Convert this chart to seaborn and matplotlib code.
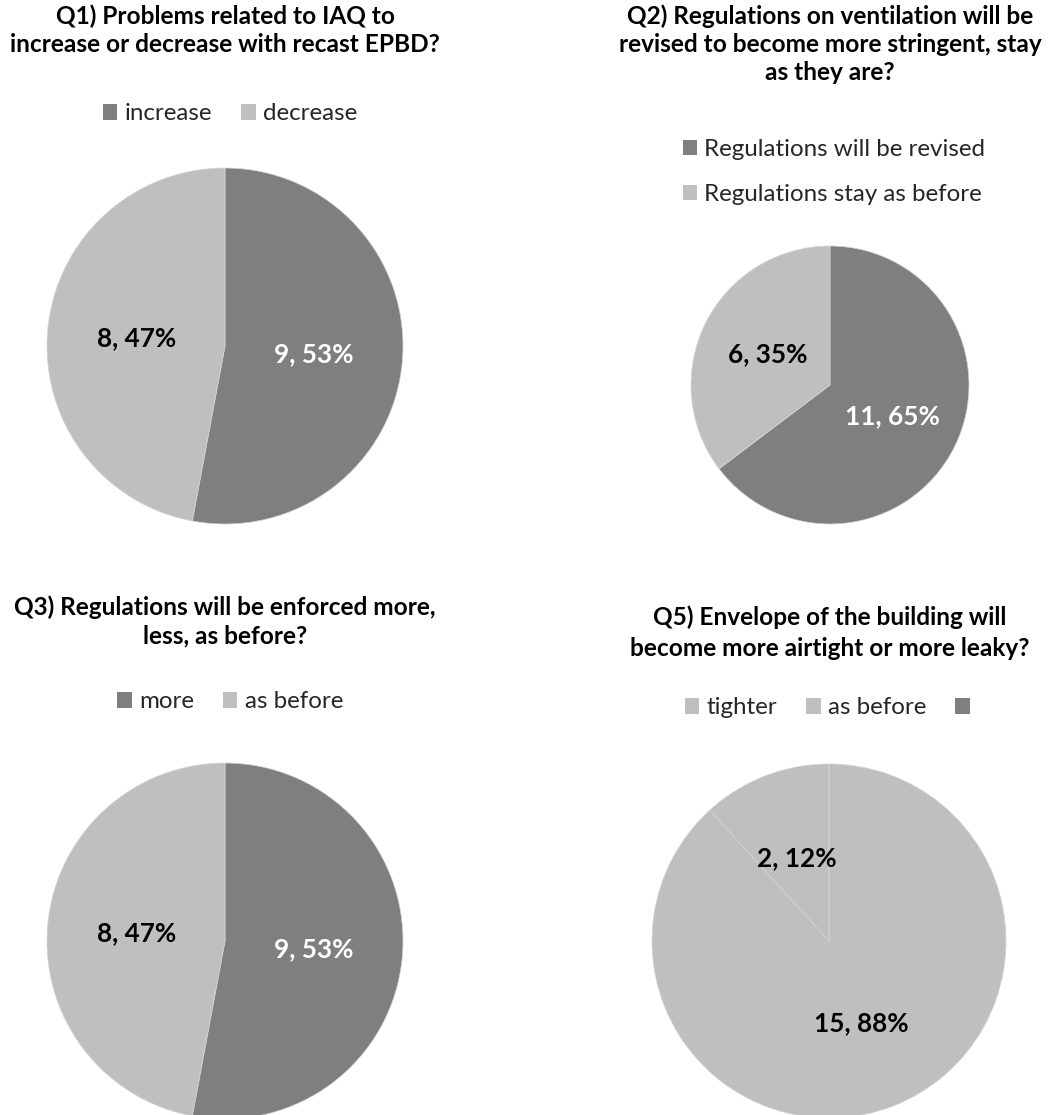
import matplotlib
matplotlib.use('Agg')
import matplotlib.pyplot as plt
from matplotlib.patches import Patch
import numpy as np
import seaborn as sns

# ── data ──────────────────────────────────────────────────────────────────────
q1_title = ['Q1) Problems related to IAQ to', 'increase or decrease with recast EPBD?']
q1_labels = ['increase', 'decrease']
q1_values = [9, 8]

q2_title = ['Q2) Regulations on ventilation will be',
            'revised to become more stringent, stay', 'as they are?']
q2_labels = ['Regulations will be revised', 'Regulations stay as before']
q2_values = [11, 6]

q3_title = ['Q3) Regulations will be enforced more,', 'less, as before?']
q3_labels = ['more', 'as before']
q3_values = [9, 8]

q5_title = ['Q5) Envelope of the building will', 'become more airtight or more leaky?']
q5_labels = ['tighter', 'as before', '']
q5_values = [15, 2, 0]

# ── style ─────────────────────────────────────────────────────────────────────
sns.set_theme(style='white')
plt.rcParams['font.family'] = ['Lato', 'DejaVu Sans']

DARK = '#7F7F7F'
LIGHT = '#BFBFBF'
W, H = 1051, 1115
TITLE_FS = 17.6
LEG_FS = 17.4
LBL_FS = 18.8

fig = plt.figure(figsize=(W / 100, H / 100), dpi=100, facecolor='white')


def add_title(lines, cx, y0, step):
    for i, line in enumerate(lines):
        fig.text(cx / W, 1 - (y0 + i * step) / H, line, ha='center', va='center',
                 fontsize=TITLE_FS, fontweight='bold', color='black')


def draw_pie(cx, cy, r, values, colors, text_colors):
    ax = fig.add_axes([(cx - r) / W, 1 - (cy + r) / H, 2 * r / W, 2 * r / H])
    wedges, _ = ax.pie(values, colors=colors, startangle=90, counterclock=False,
                       radius=1, wedgeprops=dict(linewidth=0.5, edgecolor='#d4d4d4'))
    total = sum(values)
    for w, v, tc in zip(wedges, values, text_colors):
        if v == 0:
            continue
        ang = np.deg2rad((w.theta1 + w.theta2) / 2)
        ax.text(0.5 * np.cos(ang), 0.5 * np.sin(ang), f'{v}, {v / total * 100:.0f}%',
                ha='center', va='center', fontsize=LBL_FS, fontweight='bold', color=tc)
    ax.set_xlim(-1, 1); ax.set_ylim(-1, 1)
    ax.set_aspect('equal')
    ax.axis('off')
    return ax


def add_legend(labels, colors, cx, cy, ncol, labelspacing=0.5):
    handles = [Patch(facecolor=c, edgecolor='none') for c in colors]
    fig.legend(handles, labels, loc='center', bbox_to_anchor=(cx / W, 1 - cy / H),
               ncol=ncol, frameon=False, fontsize=LEG_FS, handlelength=0.6,
               handleheight=0.6, handletextpad=0.3, columnspacing=1.2,
               labelspacing=labelspacing, borderpad=0)


# Q1
add_title(q1_title, 225, 16, 28.5)
add_legend(q1_labels, [DARK, LIGHT], 230, 114, ncol=2)
draw_pie(225, 346, 178, q1_values, [DARK, LIGHT], ['white', 'black'])

# Q2
add_title(q2_title, 830, 16, 28.5)
add_legend(q2_labels, [DARK, LIGHT], 834, 172, ncol=1, labelspacing=1.0)
draw_pie(830, 385, 139, q2_values, [DARK, LIGHT], ['white', 'black'])

# Q3
add_title(q3_title, 225, 607, 28.5)
add_legend(q3_labels, [DARK, LIGHT], 230, 702, ncol=2)
draw_pie(225, 941, 178, q3_values, [DARK, LIGHT], ['white', 'black'])

# Q5
add_title(q5_title, 830, 617, 31)
add_legend(q5_labels, [LIGHT, LIGHT, DARK], 831, 708, ncol=3)
draw_pie(829, 941, 177, q5_values, [LIGHT, LIGHT, DARK], ['black', 'black', 'black'])

fig.savefig('out.png', dpi=100, facecolor='white')
